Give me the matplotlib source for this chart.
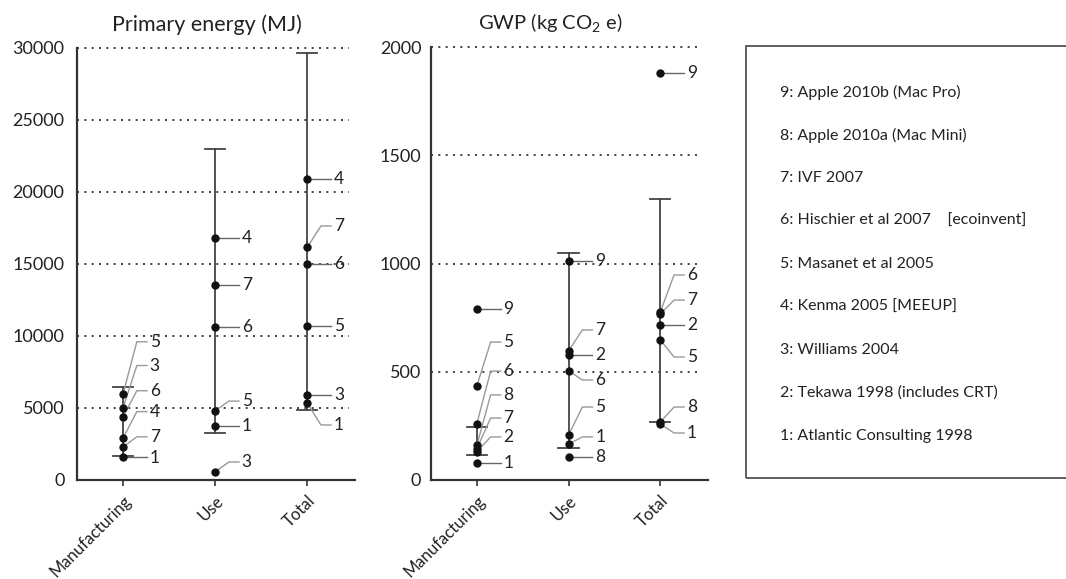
import matplotlib
matplotlib.use("Agg")
import matplotlib.pyplot as plt
from matplotlib.patches import Rectangle

plt.rcParams['font.family'] = ['Lato', 'DejaVu Sans']
plt.rcParams['mathtext.fontset'] = 'custom'
plt.rcParams['mathtext.rm'] = 'Lato'
plt.rcParams['mathtext.it'] = 'Lato'

categories = ["Manufacturing", "Use", "Total"]

# primary energy (MJ): study ids and values per life-cycle stage
pe_ids = [[5, 3, 6, 4, 7, 1],
          [4, 7, 6, 5, 1, 3],
          [4, 7, 6, 5, 3, 1]]
pe_vals = [[5970, 5000, 4380, 2900, 2290, 1600],
           [16800, 13550, 10620, 4790, 3750, 560],
           [20900, 16150, 15000, 10700, 5900, 5350]]
pe_range = [(1670, 6450), (3260, 23000), (4860, 29650)]

# GWP (kg CO2e)
gwp_ids = [[9, 5, 6, 8, 7, 2, 1],
           [9, 7, 2, 6, 5, 1, 8],
           [9, 6, 7, 2, 5, 8, 1]]
gwp_vals = [[790, 435, 260, 160, 145, 130, 80],
            [1012, 596, 577, 505, 208, 166, 106],
            [1880, 776, 767, 716, 647, 268, 259]]
gwp_range = [(115, 245), (148, 1048), (268, 1298)]

# where the number labels sit (y in data units)
pe_lab = [[9600, 7950, 6200, 4750, 3000, 1560],
          [16800, 13550, 10620, 5480, 3750, 1250],
          [20900, 17640, 15000, 10700, 5900, 3820]]
gwp_lab = [[790, 637, 503, 393, 286, 199, 80],
           [1012, 693, 577, 462, 337, 199, 106],
           [1880, 947, 831, 716, 568, 337, 217]]

sources = ["9: Apple 2010b (Mac Pro)",
           "8: Apple 2010a (Mac Mini)",
           "7: IVF 2007",
           "6: Hischier et al 2007    [ecoinvent]",
           "5: Masanet et al 2005",
           "4: Kenma 2005 [MEEUP]",
           "3: Williams 2004",
           "2: Tekawa 1998 (includes CRT)",
           "1: Atlantic Consulting 1998"]

W, H = 1066, 579
fig = plt.figure(figsize=(W / 100, H / 100), dpi=100)


def px_axes(x0, x1, ytop, ybot):
    return fig.add_axes([x0 / W, 1 - ybot / H, (x1 - x0) / W, (ybot - ytop) / H])


def panel(ax, ids, vals, labs, ranges, ymax, ticks, pad):
    ax.set_xlim(-0.5, 2.52)
    ax.set_ylim(0, ymax)
    for t in ticks[1:]:
        ax.plot([-0.5, 2.45], [t, t], color='#222222', lw=1.2,
                ls=(0, (1.2, 3.2)), zorder=1, clip_on=False)
    for i in range(3):
        lo, hi = ranges[i]
        ax.plot([i, i], [lo, hi], color='#444444', lw=1.3, zorder=2)
        for v in (lo, hi):
            ax.plot([i - 0.11, i + 0.11], [v, v], color='#444444', lw=1.3, zorder=2)
        for sid, v, ly in zip(ids[i], vals[i], labs[i]):
            if abs(ly - v) < ymax * 0.004:
                ax.plot([i, i + 0.26], [v, v], color='#666666', lw=1, zorder=2)
            else:
                ax.plot([i, i + 0.15, i + 0.26], [v, ly, ly], color='#999999',
                        lw=1, zorder=2)
            ax.plot(i, v, 'o', color='#111111', ms=5, zorder=3)
            ax.text(i + 0.29, ly, str(sid), fontsize=12.5, color='#222222',
                    va='center', ha='left')
    ax.set_xticks(range(3))
    ax.set_xticklabels(categories, rotation=45, ha='right', va='top',
                       rotation_mode='anchor', fontsize=12, color='#222222')
    ax.set_yticks(ticks)
    ax.tick_params(axis='y', length=0, pad=pad, labelsize=13, labelcolor='#222222')
    ax.tick_params(axis='x', length=4, width=1.2, color='#333333', pad=5)
    for s in ('top', 'right'):
        ax.spines[s].set_visible(False)
    for s in ('left', 'bottom'):
        ax.spines[s].set_color('#333333')
        ax.spines[s].set_linewidth(1.6)
    ax.patch.set_alpha(0)


ax1 = px_axes(77, 355, 48, 480)
panel(ax1, pe_ids, pe_vals, pe_lab, pe_range, 30000,
      [0, 5000, 10000, 15000, 20000, 25000, 30000], 9)
fig.text(207 / W, 1 - 25 / H, "Primary energy (MJ)", fontsize=15.5,
         ha='center', va='center', color='#222222')

ax2 = px_axes(431, 708, 47, 480)
panel(ax2, gwp_ids, gwp_vals, gwp_lab, gwp_range, 2000,
      [0, 500, 1000, 1500, 2000], 7)
fig.text(550 / W, 1 - 22 / H, r"GWP (kg CO$_{2}$ e)", fontsize=14.5,
         ha='center', va='center', color='#222222')

# source key box
fig.patches.append(Rectangle((746 / W, 1 - 478 / H), (W + 10 - 746) / W,
                             (478 - 46) / H, transform=fig.transFigure,
                             fill=False, ec='#444444', lw=1.2))
for k, s in enumerate(sources):
    fig.text(780 / W, 1 - (92 + k * 43) / H, s, fontsize=11.5,
             ha='left', va='center', color='#222222')

fig.savefig("out.png", dpi=100)
